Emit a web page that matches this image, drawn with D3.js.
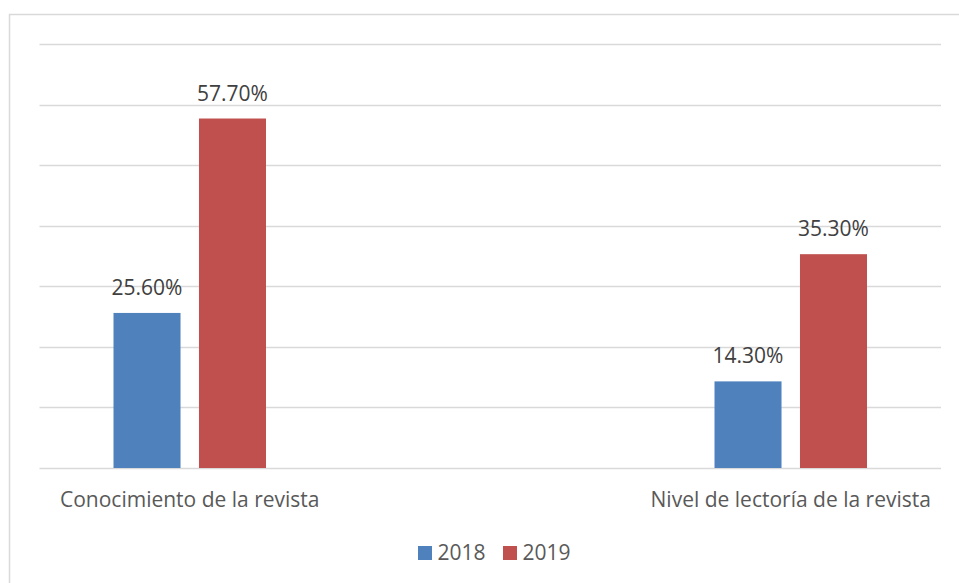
<!DOCTYPE html>
<html>
<head>
<meta charset="utf-8">
<script src="https://cdn.jsdelivr.net/npm/d3@7"></script>
<style>
  body { margin: 0; background: #fff; }
  svg { display: block; font-family: "Open Sans", sans-serif; }
</style>
</head>
<body>
<div id="chart"></div>
<script>
// categories (the middle one is blank, as in the original sheet)
const categories = ["Conocimiento de la revista", "", "Nivel de lectoría de la revista"];
const seriesNames = ["2018", "2019"];
const values2018 = [25.6, null, 14.3];
const values2019 = [57.7, null, 35.3];
const yTicks = [0, 10, 20, 30, 40, 50, 60, 70];
const colors = ["#4F81BD", "#C0504D"];

const width = 959, height = 583;
const svg = d3.select("#chart").append("svg")
  .attr("width", width)
  .attr("height", height);

// outer chart border
svg.append("rect")
  .attr("x", 9.5).attr("y", 14.5)
  .attr("width", 1000).attr("height", 1000)
  .attr("fill", "#fff")
  .attr("stroke", "#d9d9d9")
  .attr("stroke-width", 1.5);

const x0 = d3.scaleBand()
  .domain(d3.range(categories.length))
  .range([39.5, 941]);

const groupW = 152.5;
const x1 = d3.scaleBand()
  .domain(seriesNames)
  .range([(x0.bandwidth() - groupW) / 2, (x0.bandwidth() + groupW) / 2])
  .paddingInner(0.216);

const y = d3.scaleLinear()
  .domain([0, 70])
  .range([468, 44]);

// gridlines
svg.append("g")
  .selectAll("line")
  .data(yTicks)
  .enter().append("line")
  .attr("x1", 39.5)
  .attr("x2", 941)
  .attr("y1", d => Math.round(y(d)) + 0.5)
  .attr("y2", d => Math.round(y(d)) + 0.5)
  .attr("stroke", "#d9d9d9")
  .attr("stroke-width", 1.5);

const rows = [];
categories.forEach((c, i) => {
  [values2018, values2019].forEach((vals, s) => {
    if (vals[i] != null) rows.push({ cat: i, series: seriesNames[s], s: s, value: vals[i] });
  });
});

const bars = svg.append("g")
  .selectAll("g")
  .data(rows)
  .enter().append("g")
  .attr("transform", d => `translate(${x0(d.cat) + x1(d.series)},0)`);

bars.append("rect")
  .attr("x", 0)
  .attr("y", d => y(d.value))
  .attr("width", x1.bandwidth())
  .attr("height", d => y(0) - y(d.value))
  .attr("fill", d => colors[d.s]);

bars.append("text")
  .attr("x", x1.bandwidth() / 2)
  .attr("y", d => y(d.value) - 18)
  .attr("text-anchor", "middle")
  .attr("font-size", "21px")
  .attr("fill", "#404040")
  .text(d => d.value.toFixed(2) + "%");

// category labels
svg.append("g")
  .selectAll("text")
  .data(categories)
  .enter().append("text")
  .attr("x", (d, i) => x0(i) + x0.bandwidth() / 2)
  .attr("y", 506.5)
  .attr("text-anchor", "middle")
  .attr("font-size", "21px")
  .attr("fill", "#595959")
  .text(d => d);

// legend
const legendX = [418, 503];
const legend = svg.append("g")
  .selectAll("g")
  .data(seriesNames)
  .enter().append("g")
  .attr("transform", (d, i) => `translate(${legendX[i]},546)`);

legend.append("rect")
  .attr("width", 14)
  .attr("height", 14)
  .attr("fill", (d, i) => colors[i]);

legend.append("text")
  .attr("x", 19.5)
  .attr("y", 14)
  .attr("font-size", "21px")
  .attr("fill", "#595959")
  .text(d => d);
</script>
</body>
</html>
